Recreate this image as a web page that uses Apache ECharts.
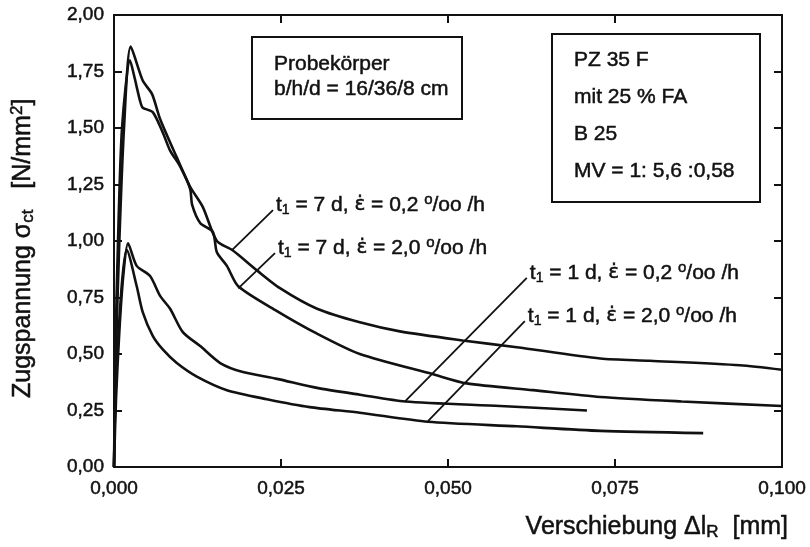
<!DOCTYPE html>
<html>
<head>
<meta charset="utf-8">
<script src="https://cdn.jsdelivr.net/npm/echarts@6/dist/echarts.min.js"></script>
<style>
html, body { margin: 0; padding: 0; background: #fff; }
#chart { width: 810px; height: 547px; }
</style>
</head>
<body>
<div id="chart"></div>
<script>
// curves: x = displacement [mm], y = stress [N/mm2]
const x7d02 = [0, 0.0003, 0.0008, 0.0015, 0.0025, 0.0043, 0.0057, 0.0069, 0.0094, 0.0114, 0.0133, 0.0154, 0.0177, 0.0214, 0.0249, 0.0304, 0.0368, 0.0428, 0.0522, 0.0603, 0.0728, 0.0802, 0.0937, 0.1];
const y7d02 = [0, 0.5, 1.0, 1.5, 1.86, 1.71, 1.65, 1.54, 1.37, 1.24, 1.15, 1.00, 0.96, 0.87, 0.79, 0.70, 0.64, 0.60, 0.56, 0.53, 0.48, 0.47, 0.45, 0.43];

const x7d20 = [0, 0.0002, 0.0006, 0.0012, 0.0024, 0.0031, 0.0039, 0.0043, 0.0058, 0.0073, 0.0084, 0.0099, 0.0114, 0.0117, 0.0129, 0.0148, 0.0154, 0.0169, 0.0186, 0.0244, 0.0304, 0.0368, 0.0478, 0.0528, 0.0627, 0.0728, 0.085, 0.1];
const y7d20 = [0, 0.5, 1.0, 1.5, 1.80, 1.72, 1.62, 1.59, 1.57, 1.48, 1.40, 1.33, 1.23, 1.16, 1.08, 1.04, 0.95, 0.89, 0.80, 0.69, 0.59, 0.50, 0.41, 0.37, 0.34, 0.31, 0.29, 0.27];

const x1d02 = [0, 0.0003, 0.0008, 0.0014, 0.0021, 0.0034, 0.0054, 0.0069, 0.0084, 0.0103, 0.0129, 0.0159, 0.0193, 0.0244, 0.0304, 0.0368, 0.0436, 0.0578, 0.0708];
const y1d02 = [0, 0.3, 0.6, 0.85, 0.99, 0.89, 0.845, 0.757, 0.70, 0.597, 0.535, 0.46, 0.42, 0.39, 0.35, 0.32, 0.29, 0.27, 0.25];

const x1d20 = [0, 0.0002, 0.0007, 0.0013, 0.0019, 0.0034, 0.0043, 0.0058, 0.0073, 0.0094, 0.0124, 0.0169, 0.0229, 0.0293, 0.0368, 0.047, 0.0603, 0.0728, 0.0882];
const y1d20 = [0, 0.3, 0.6, 0.85, 0.96, 0.80, 0.685, 0.58, 0.52, 0.46, 0.40, 0.34, 0.30, 0.265, 0.24, 0.20, 0.18, 0.16, 0.15];

// leader lines: point on curve -> start of label
const leaderFrom = [[0.0177, 0.961], [0.0186, 0.79], [0.0436, 0.292], [0.047, 0.203]];
const leaderTo = [[0.0238, 1.137], [0.0241, 0.946], [0.0618, 0.837], [0.0615, 0.646]];
const leaderLabels = [
    '{t|t}{s|1}{t| = 7 d, }{e|\u03B5\u0307}{t| = 0,2 }{p|o}{t|/oo /h}',
    '{t|t}{s|1}{t| = 7 d, }{e|\u03B5\u0307}{t| = 2,0 }{p|o}{t|/oo /h}',
    '{t|t}{s|1}{t| = 1 d, }{e|\u03B5\u0307}{t| = 0,2 }{p|o}{t|/oo /h}',
    '{t|t}{s|1}{t| = 1 d, }{e|\u03B5\u0307}{t| = 2,0 }{p|o}{t|/oo /h}'
];

const boxSpecimen = ['Probekörper', 'b/h/d = 16/36/8 cm'];
const boxMix = ['PZ 35 F', 'mit 25 % FA', 'B 25', 'MV = 1: 5,6 :0,58'];

const FONT = '"Liberation Sans", Arial, "DejaVu Sans", sans-serif';
const INK = '#111';
const BOLDEN = 0.5;

function zip(xs, ys) {
    return xs.map((x, i) => [x, ys[i]]);
}

const richStyle = {
    t: { fontSize: 21, fontFamily: FONT, color: INK, textBorderColor: INK, textBorderWidth: BOLDEN },
    e: { fontSize: 20, fontFamily: '"DejaVu Sans", sans-serif', color: INK, textBorderColor: INK, textBorderWidth: BOLDEN },
    s: { fontSize: 14, fontFamily: FONT, color: INK, textBorderColor: INK, textBorderWidth: BOLDEN, padding: [10, 0, 0, 0] },
    p: { fontSize: 15, fontFamily: FONT, color: INK, textBorderColor: INK, textBorderWidth: BOLDEN, padding: [0, 0, 10, 0] }
};

const chart = echarts.init(document.getElementById('chart'));

const curveSeries = [[x7d02, y7d02], [x7d20, y7d20], [x1d02, y1d02], [x1d20, y1d20]].map(c => ({
    type: 'line',
    data: zip(c[0], c[1]),
    symbol: 'none',
    smooth: 0.25,
    lineStyle: { color: INK, width: 2.6 },
    silent: true
}));

const leaderSeries = leaderFrom.map((p, i) => ({
    type: 'line',
    data: [p, leaderTo[i]],
    symbol: 'none',
    lineStyle: { color: INK, width: 1.8 },
    silent: true
}));

// scatter defaults to 0.8 opacity, which would grey out the labels
const labelSeries = {
    type: 'scatter',
    symbolSize: 0,
    itemStyle: { color: INK, opacity: 1 },
    silent: true,
    data: leaderTo.map((p, i) => ({
        value: p,
        label: {
            show: true,
            position: 'right',
            distance: 3,
            offset: [0, -5],
            color: INK,
            formatter: leaderLabels[i],
            rich: richStyle
        }
    }))
};

const fmtY = v => v.toFixed(2).replace('.', ',');
const fmtX = v => v.toFixed(3).replace('.', ',');

const tickLabel = { fontSize: 19, fontFamily: FONT, color: INK, textBorderColor: INK, textBorderWidth: BOLDEN };

const axisBase = {
    axisLine: { show: true, onZero: false, lineStyle: { color: INK, width: 2 } },
    axisTick: { show: true, inside: true, length: 8, lineStyle: { color: INK, width: 2 } },
    splitLine: { show: false }
};

chart.setOption({
    animation: false,
    backgroundColor: '#fff',
    grid: { left: 114, right: 28, top: 15, bottom: 80 },
    xAxis: [
        Object.assign({}, axisBase, {
            type: 'value', min: 0, max: 0.1, interval: 0.025,
            axisLabel: Object.assign({ formatter: fmtX, margin: 12 }, tickLabel)
        }),
        Object.assign({}, axisBase, {
            type: 'value', position: 'top', min: 0, max: 0.1, interval: 0.025,
            axisLabel: { show: false }
        })
    ],
    yAxis: [
        Object.assign({}, axisBase, {
            type: 'value', min: 0, max: 2, interval: 0.25,
            axisLabel: Object.assign({ formatter: fmtY, margin: 10 }, tickLabel)
        }),
        Object.assign({}, axisBase, {
            type: 'value', position: 'right', min: 0, max: 2, interval: 0.25,
            axisLabel: { show: false }
        })
    ],
    series: curveSeries.concat(leaderSeries, [labelSeries]),
    graphic: [
        {
            type: 'text', x: 23, y: 398, rotation: Math.PI / 2,
            style: {
                text: '{a|Zugspannung \u03C3}{s|ct}{a|   [N/mm}{p|2}{a|]}',
                textAlign: 'left', textVerticalAlign: 'middle',
                rich: {
                    a: { fontSize: 25, fontFamily: FONT, fill: INK, stroke: INK, lineWidth: BOLDEN },
                    s: { fontSize: 17, fontFamily: FONT, fill: INK, stroke: INK, lineWidth: BOLDEN, padding: [11, 0, 0, 0] },
                    p: { fontSize: 17, fontFamily: FONT, fill: INK, stroke: INK, lineWidth: BOLDEN, padding: [0, 0, 11, 0] }
                }
            }
        },
        {
            type: 'text', x: 788, y: 527,
            style: {
                text: '{a|Verschiebung \u0394l}{s|R}{a|  [mm]}',
                textAlign: 'right', textVerticalAlign: 'middle',
                rich: {
                    a: { fontSize: 25, fontFamily: FONT, fill: INK, stroke: INK, lineWidth: BOLDEN },
                    s: { fontSize: 17, fontFamily: FONT, fill: INK, stroke: INK, lineWidth: BOLDEN, padding: [11, 0, 0, 0] }
                }
            }
        },
        {
            type: 'rect', shape: { x: 252, y: 37, width: 210, height: 82 },
            style: { fill: 'rgba(0,0,0,0)', stroke: INK, lineWidth: 2 }
        },
        {
            type: 'text', x: 274, y: 51.5,
            style: {
                text: boxSpecimen.join('\n'), fontSize: 21, fontFamily: FONT, fill: INK,
                stroke: INK, lineWidth: BOLDEN, lineHeight: 25, textVerticalAlign: 'top'
            }
        },
        {
            type: 'rect', shape: { x: 552, y: 34, width: 208, height: 168 },
            style: { fill: 'rgba(0,0,0,0)', stroke: INK, lineWidth: 2 }
        },
        {
            type: 'text', x: 574, y: 41.5,
            style: {
                text: boxMix.join('\n'), fontSize: 21, fontFamily: FONT, fill: INK,
                stroke: INK, lineWidth: BOLDEN, lineHeight: 37, textVerticalAlign: 'top'
            }
        }
    ]
});
</script>
</body>
</html>
